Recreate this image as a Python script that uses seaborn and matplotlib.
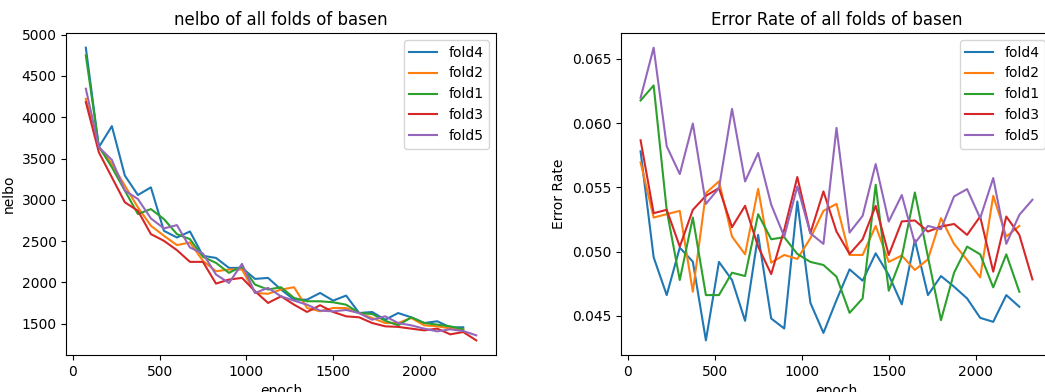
import pandas as pd
import seaborn as sns
import matplotlib
matplotlib.use('Agg')
import matplotlib.pyplot as plt

# epochs at which each fold was evaluated
epochs = [75, 150, 225, 300, 375, 450, 525, 600, 675, 750, 825, 900, 975, 1050,
          1125, 1200, 1275, 1350, 1425, 1500, 1575, 1650, 1725, 1800, 1875,
          1950, 2025, 2100, 2175, 2250, 2325]

folds = ['fold4', 'fold2', 'fold1', 'fold3', 'fold5']

# nelbo per fold
nelbo_fold4 = [4842, 3637, 3892, 3293, 3058, 3151, 2625, 2544, 2617, 2322, 2297, 2176, 2176, 2043,
               2055, 1914, 1792, 1792, 1873, 1780, 1841, 1630, 1642, 1549, 1630, 1578, 1509, 1530,
               1457, 1457]
nelbo_fold2 = [4223, 3637, 3434, 3171, 2909, 2686, 2565, 2452, 2484, 2261, 2136, 2156, 2156, 1873,
               1863, 1914, 1942, 1691, 1651, 1691, 1690, 1630, 1570, 1509, 1509, 1570, 1481, 1469,
               1444, 1432]
nelbo_fold1 = [4749, 3645, 3394, 3111, 2828, 2888, 2767, 2585, 2524, 2310, 2237, 2116, 2197, 1974,
               1914, 1942, 1812, 1772, 1772, 1760, 1731, 1630, 1618, 1537, 1481, 1578, 1509, 1489,
               1469, 1432]
nelbo_fold3 = [4183, 3576, 3273, 2970, 2868, 2585, 2504, 2391, 2249, 2249, 1986, 2035, 2055, 1894,
               1752, 1832, 1731, 1643, 1724, 1643, 1590, 1578, 1509, 1469, 1462, 1441, 1420, 1441,
               1372, 1400, 1299]
nelbo_fold5 = [4345, 3637, 3483, 3111, 3010, 2775, 2654, 2694, 2423, 2350, 2096, 1994, 2225, 1873,
               1934, 1832, 1780, 1731, 1659, 1650, 1667, 1630, 1549, 1590, 1509, 1481, 1441, 1408,
               1433, 1412, 1360]

# error rate per fold
err_fold4 = [0.0578, 0.04956, 0.04662, 0.05031, 0.04922, 0.0431, 0.0492, 0.04779, 0.04462, 0.0513,
             0.0448, 0.04402, 0.0539, 0.04602, 0.04368, 0.04623, 0.04862, 0.04774, 0.04987, 0.04818,
             0.0459, 0.05091, 0.04662, 0.0481, 0.04727, 0.04636, 0.04485, 0.04454, 0.04662, 0.04571]
err_fold2 = [0.05694, 0.05265, 0.05291, 0.05317, 0.04688, 0.05455, 0.05546, 0.05117, 0.04979, 0.05488,
             0.04914, 0.04974, 0.04943, 0.05104, 0.05317, 0.05371, 0.04974, 0.04974, 0.052, 0.0492,
             0.0497, 0.04857, 0.0494, 0.0526, 0.0506, 0.04935, 0.048, 0.05434, 0.05117, 0.052]
err_fold1 = [0.06175, 0.06292, 0.05322, 0.04779, 0.05265, 0.04662, 0.04662, 0.04836, 0.0481, 0.05291,
             0.05096, 0.05112, 0.04982, 0.0492, 0.04896, 0.04805, 0.04524, 0.04636, 0.0552, 0.04696,
             0.04961, 0.0546, 0.0496, 0.04467, 0.04836, 0.05039, 0.04979, 0.04722, 0.04979, 0.04688]
err_fold3 = [0.05866, 0.05299, 0.05325, 0.05039, 0.05325, 0.05434, 0.05494, 0.0519, 0.05356, 0.05039,
             0.04825, 0.0517, 0.0558, 0.05143, 0.05468, 0.05156, 0.04982, 0.05096, 0.05356, 0.04974,
             0.05235, 0.05242, 0.05156, 0.05195, 0.05215, 0.0513, 0.05273, 0.04844, 0.05273, 0.0513,
             0.04784]
err_fold5 = [0.06196, 0.06586, 0.05819, 0.05603, 0.05996, 0.05371, 0.05494, 0.0611, 0.05546, 0.05767,
             0.05365, 0.05117, 0.05507, 0.05143, 0.0506, 0.05962, 0.05148, 0.05278, 0.05681, 0.05234,
             0.0544, 0.05065, 0.052, 0.05174, 0.05429, 0.05486, 0.0526, 0.05572, 0.0506, 0.05286,
             0.05403]


def to_long(series, col):
    rows = []
    for name, vals in zip(folds, series):
        for e, v in zip(epochs, vals):
            rows.append({'epoch': e, col: v, 'fold': name})
    return pd.DataFrame(rows)


df_nelbo = to_long([nelbo_fold4, nelbo_fold2, nelbo_fold1, nelbo_fold3, nelbo_fold5], 'nelbo')
df_err = to_long([err_fold4, err_fold2, err_fold1, err_fold3, err_fold5], 'Error Rate')

palette = sns.color_palette('tab10', 5)

fig = plt.figure(figsize=(10.45, 3.92), dpi=100)
ax1 = fig.add_axes([66.3 / 1045, 37 / 392, 429.5 / 1045, 322 / 392])
ax2 = fig.add_axes([621 / 1045, 37 / 392, 431 / 1045, 322 / 392])

sns.lineplot(data=df_nelbo, x='epoch', y='nelbo', hue='fold', hue_order=folds,
             palette=palette, ax=ax1)
ax1.set_title('nelbo of all folds of basen')
ax1.legend(loc='upper right')

sns.lineplot(data=df_err, x='epoch', y='Error Rate', hue='fold', hue_order=folds,
             palette=palette, ax=ax2)
ax2.set_title('Error Rate of all folds of basen')
ax2.legend(loc='upper right')

fig.savefig('out.png', dpi=100)
